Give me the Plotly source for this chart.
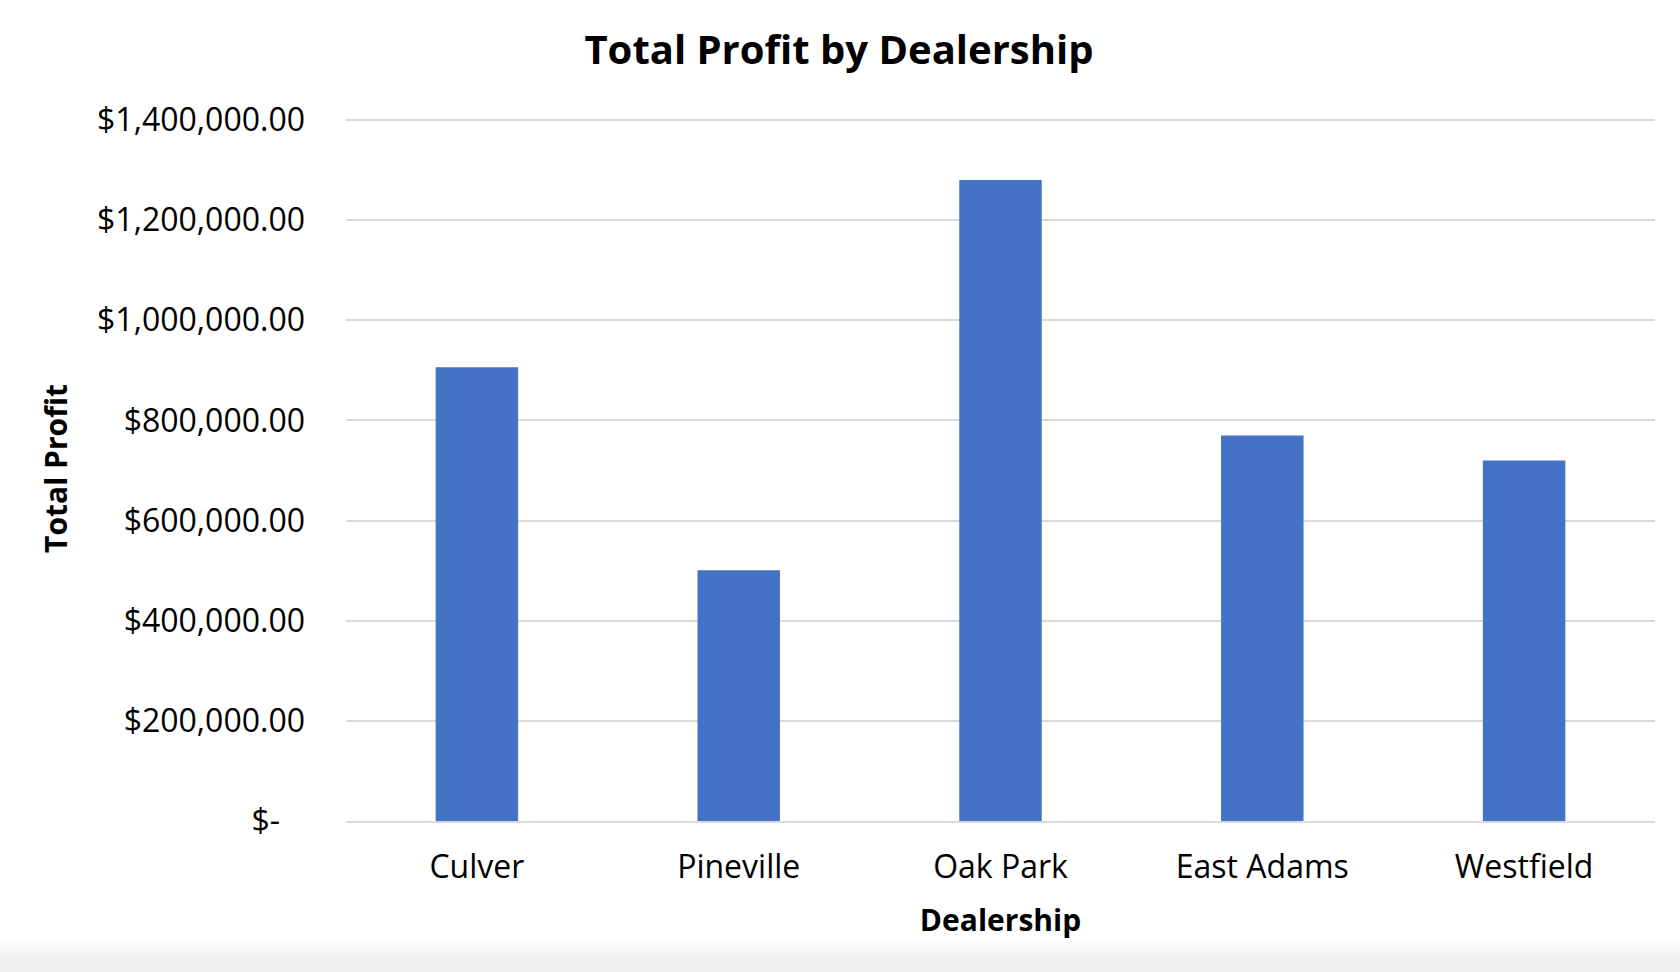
import plotly.graph_objects as go

dealerships = ["Culver", "Pineville", "Oak Park", "East Adams", "Westfield"]
total_profit = [906000, 501000, 1280000, 770000, 720000]
tick_values = [0, 200000, 400000, 600000, 800000, 1000000, 1200000, 1400000]
tick_labels = ["$-\u00a0\u00a0\u00a0", "$200,000.00", "$400,000.00", "$600,000.00", "$800,000.00",
               "$1,000,000.00", "$1,200,000.00", "$1,400,000.00"]

W, H = 1680, 972
ML, MR, MT, MB = 346, 25, 116, 151
FONT = "Open Sans"

fig = go.Figure(go.Bar(
    x=dealerships, y=total_profit,
    marker=dict(color="#4472C4", line=dict(width=0)),
    width=0.315,
))

# light gray band at the very bottom (screenshot edge)
plot_h = H - MT - MB
def py(p):
    return (H - MB - p) / plot_h
shades = [(940, 946, "#fbfbfb"), (946, 952, "#f7f7f7"), (952, 958, "#f3f3f3"), (958, 972, "#f0f0f0")]
shapes = [dict(type="rect", xref="paper", yref="paper", x0=-ML / (W - ML - MR), x1=1 + MR / (W - ML - MR),
               y0=py(b), y1=py(a), fillcolor=c, line=dict(width=0), layer="below") for a, b, c in shades]

fig.update_layout(
    width=W, height=H,
    margin=dict(l=ML, r=MR, t=MT, b=MB),
    paper_bgcolor="white", plot_bgcolor="white",
    font=dict(family=FONT, color="#000000"),
    title=dict(text="<b>Total Profit by Dealership</b>", x=(839) / W, xanchor="center",
               y=1 - 50 / H, yanchor="middle", font=dict(size=40, family=FONT, color="#000")),
    showlegend=False,
    bargap=0.685,
    shapes=shapes,
)
fig.update_xaxes(
    showgrid=False, showline=True, linecolor="#d9d9d9", linewidth=2,
    ticks="", tickfont=dict(size=32, family=FONT, color="#000"),
    ticklabelstandoff=17,
    title=dict(text="<b>Dealership</b>", font=dict(size=30, family=FONT, color="#000"), standoff=24),
)
fig.update_yaxes(
    range=[0, 1408000], tickvals=tick_values, ticktext=tick_labels,
    showgrid=True, gridcolor="#d9d9d9", gridwidth=2, zeroline=False, showline=False,
    ticks="", tickfont=dict(size=32, family=FONT, color="#000"),
    ticklabelstandoff=40,
    title=dict(text="<b>Total Profit</b>", font=dict(size=30, family=FONT, color="#000"), standoff=20),
)

fig.write_html("out.html")
